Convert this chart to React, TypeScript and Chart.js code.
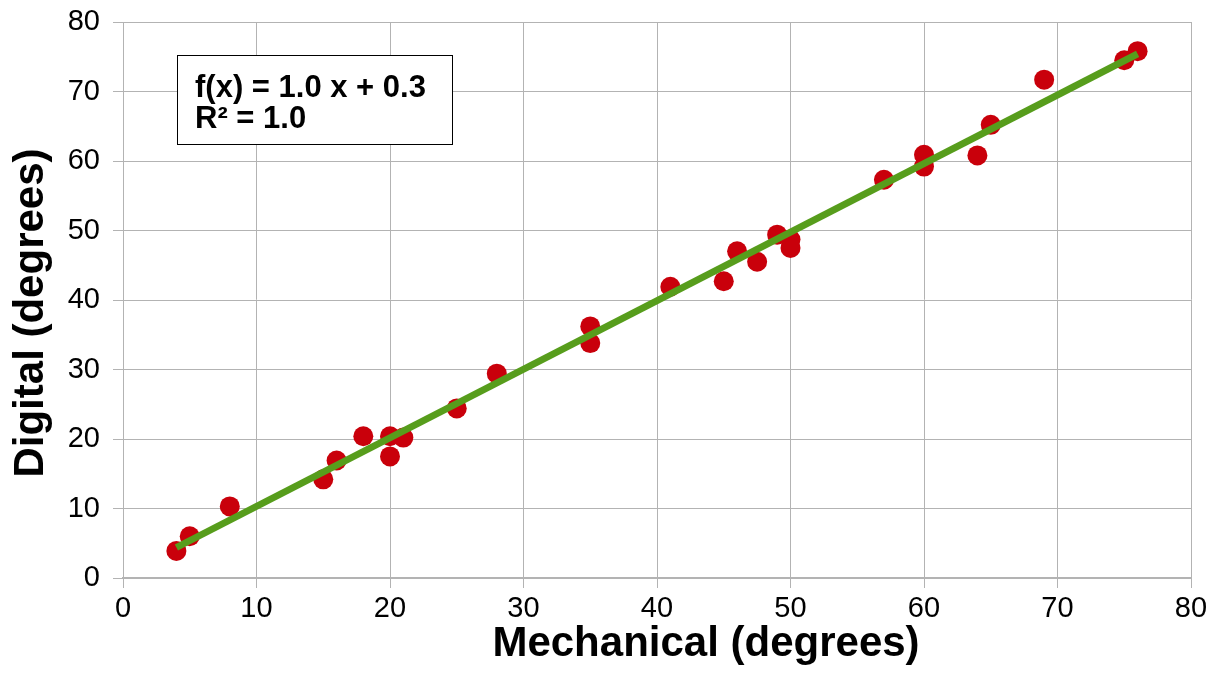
import React, { useEffect, useRef } from "react";
import { Chart, registerables } from "chart.js";

Chart.register(...registerables);

const mechanical = [4, 5, 8, 15, 16, 18, 20, 20, 21, 25, 28, 35, 35, 41, 45, 46, 47.5, 49, 50, 50, 57, 60, 60, 64, 65, 69, 75, 76];
const digital = [3.9, 6.0, 10.3, 14.2, 16.9, 20.4, 20.4, 17.5, 20.2, 24.4, 29.4, 36.2, 33.8, 41.9, 42.7, 47.0, 45.5, 49.4, 48.7, 47.5, 57.3, 60.9, 59.2, 60.8, 65.2, 71.7, 74.5, 75.8];
const equationLines = ["f(x) = 1.0 x + 0.3", "R² = 1.0"];
const xTitle = "Mechanical (degrees)";
const yTitle = "Digital (degrees)";
const axisMin = 0;
const axisMax = 80;
const axisStep = 10;

const FONT = '"Liberation Sans", Arial, sans-serif';

function regression(xs: number[], ys: number[]) {
  const n = xs.length;
  const mx = xs.reduce((a, b) => a + b, 0) / n;
  const my = ys.reduce((a, b) => a + b, 0) / n;
  let sxy = 0;
  let sxx = 0;
  for (let i = 0; i < n; i++) {
    sxy += (xs[i] - mx) * (ys[i] - my);
    sxx += (xs[i] - mx) * (xs[i] - mx);
  }
  const slope = sxy / sxx;
  return { slope, intercept: my - slope * mx };
}

export default function App() {
  const ref = useRef<HTMLCanvasElement | null>(null);

  useEffect(() => {
    if (!ref.current) return;
    const { slope, intercept } = regression(mechanical, digital);
    const xLo = Math.min(...mechanical);
    const xHi = Math.max(...mechanical);
    const trend = [
      { x: xLo, y: slope * xLo + intercept },
      { x: xHi, y: slope * xHi + intercept },
    ];
    const points = mechanical.map((x, i) => ({ x, y: digital[i] }));

    const decorations = {
      id: "decorations",
      afterDraw(chart: any) {
        const { ctx, chartArea } = chart;
        const { left, right, top, bottom } = chartArea;
        ctx.save();
        // equation box
        ctx.fillStyle = "#ffffff";
        ctx.fillRect(left + 54.5, top + 33.5, 275, 89);
        ctx.strokeStyle = "#000000";
        ctx.lineWidth = 1;
        ctx.strokeRect(left + 54.5, top + 33.5, 275, 89);
        ctx.fillStyle = "#000000";
        ctx.font = `bold 31px ${FONT}`;
        ctx.textAlign = "left";
        ctx.textBaseline = "alphabetic";
        ctx.fillText(equationLines[0], left + 72, top + 75);
        ctx.fillText(equationLines[1], left + 72, top + 106);
        // axis titles
        ctx.font = `bold 42px ${FONT}`;
        ctx.textAlign = "center";
        ctx.fillText(xTitle, (left + right) / 2 + 49, bottom + 78);
        ctx.translate(left - 80, (top + bottom) / 2 + 13);
        ctx.rotate(-Math.PI / 2);
        ctx.fillText(yTitle, 0, 0);
        ctx.restore();
      },
    };

    const chart = new Chart(ref.current, {
      type: "scatter",
      data: {
        datasets: [
          {
            type: "line",
            label: "trend",
            data: trend,
            borderColor: "#579d1c",
            borderWidth: 7,
            pointRadius: 0,
            showLine: true,
            fill: false,
          } as any,
          {
            label: "data",
            data: points,
            backgroundColor: "#c9000b",
            borderColor: "#c9000b",
            borderWidth: 0,
            pointRadius: 10,
          },
        ],
      },
      options: {
        animation: false,
        responsive: false,
        events: [],
        layout: { padding: { top: 22, right: 28, left: 0, bottom: 0 } },
        plugins: { legend: { display: false }, tooltip: { enabled: false }, title: { display: false } },
        scales: {
          x: {
            type: "linear",
            min: axisMin,
            max: axisMax,
            ticks: { stepSize: axisStep, color: "#000000", font: { family: FONT, size: 29 }, padding: 4 },
            grid: { color: "#b3b3b3", lineWidth: 1, tickLength: 10 },
            border: { color: "#b3b3b3", width: 2 },
            afterFit: (s: any) => {
              s.height = 95;
              s.paddingLeft = 0;
              s.paddingRight = 0;
            },
          },
          y: {
            type: "linear",
            min: axisMin,
            max: axisMax,
            ticks: { stepSize: axisStep, color: "#000000", font: { family: FONT, size: 29 }, padding: 13 },
            grid: { color: "#b3b3b3", lineWidth: 1, tickLength: 10 },
            border: { color: "#b3b3b3", width: 1 },
            afterFit: (s: any) => {
              s.width = 123;
              s.paddingTop = 0;
              s.paddingBottom = 0;
            },
          },
        },
      },
      plugins: [decorations],
    } as any);
    return () => chart.destroy();
  }, []);

  return (
    <div style={{ position: "absolute", left: 0, top: 0, width: 1219, height: 673, background: "#ffffff", overflow: "hidden" }}>
      <canvas ref={ref} width={1219} height={673} style={{ display: "block", width: 1219, height: 673 }} />
    </div>
  );
}
